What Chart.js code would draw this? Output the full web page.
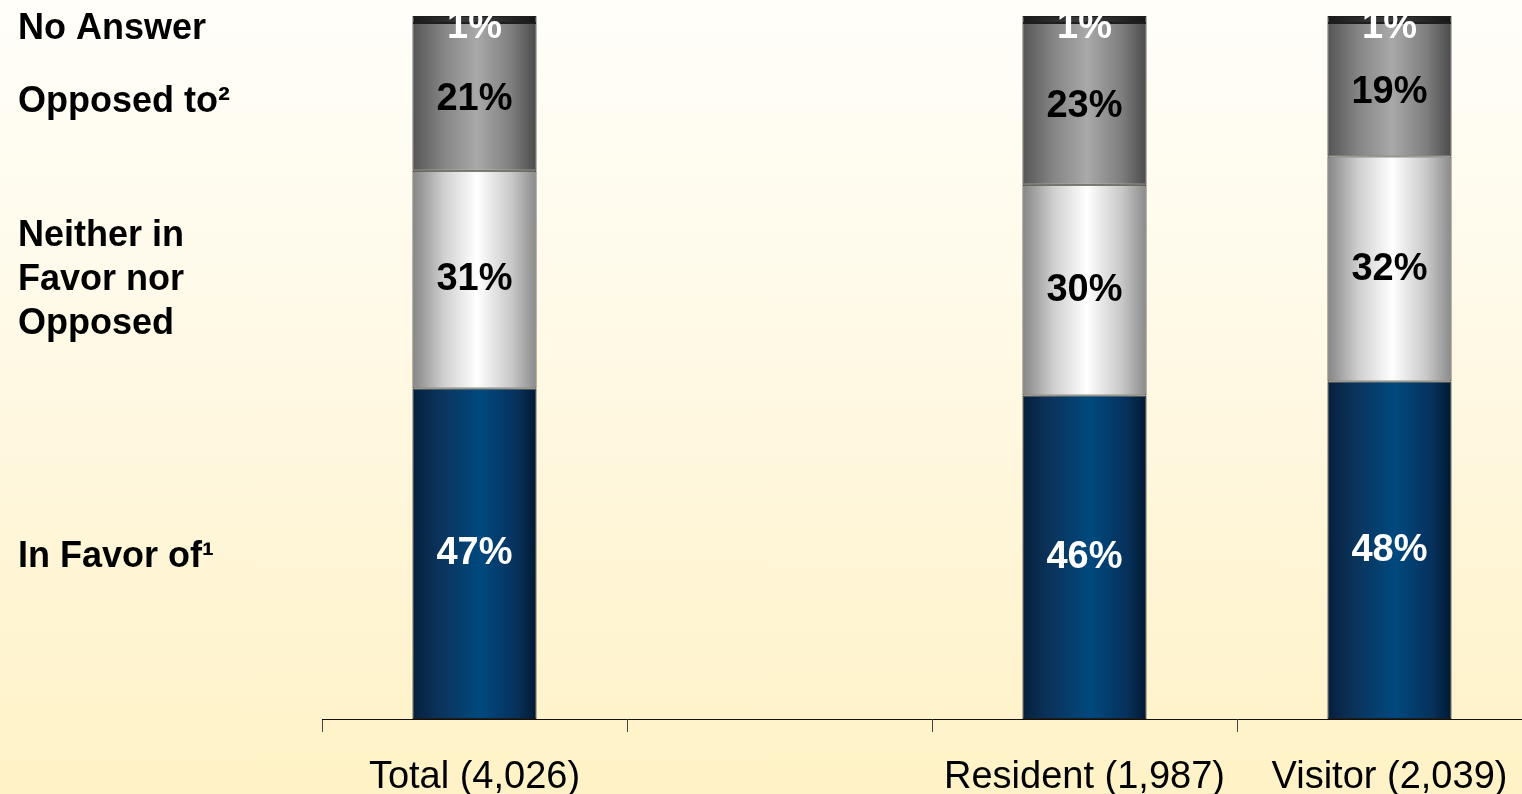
<!DOCTYPE html>
<html lang="en">
  <head>
    <meta charset="UTF-8" />
    <title>In Favor / Opposed</title>
    <script src="https://cdn.jsdelivr.net/npm/chart.js@4.4.1/dist/chart.umd.min.js"></script>
    <style>
      html,
      body {
        margin: 0;
        width: 1522px;
        height: 794px;
        overflow: hidden;
        background: linear-gradient(to bottom, #fffef9 0%, #fffaea 35%, #fff2c6 100%);
        font-family: "Liberation Sans", Arial, sans-serif;
      }
      #wrap {
        position: absolute;
        left: 0;
        top: 0;
        width: 1545px;
        height: 824px;
      }
    </style>
  </head>
  <body>
    <div id="wrap"><canvas id="surveyChart" width="1545" height="824"></canvas></div>

    <script>
      // data
      const categories = ["Total (4,026)", "", "Resident (1,987)", "Visitor (2,039)"];
      const inFavor = [47, null, 46, 48];
      const neither = [31, null, 30, 32];
      const opposed = [21, null, 23, 19];
      const noAnswer = [1, null, 1, 1];

      const BAR_PCT = 0.407;

      // horizontal shading across each bar
      function shade(stops, fallback) {
        return (ctx) => {
          const chart = ctx.chart;
          const x = chart.scales.x;
          if (!chart.chartArea || !x) return fallback;
          const center = x.getPixelForValue(ctx.dataIndex);
          const half = ((x.width / categories.length) * BAR_PCT) / 2;
          const g = chart.ctx.createLinearGradient(center - half, 0, center + half, 0);
          stops.forEach(([pos, col]) => g.addColorStop(pos, col));
          return g;
        };
      }

      const blueStops = [
        [0, "#061f3c"],
        [0.2, "#0b3259"],
        [0.55, "#00497f"],
        [0.85, "#07305a"],
        [1, "#001830"],
      ];
      const whiteStops = [
        [0, "#858585"],
        [0.25, "#cfcfcf"],
        [0.52, "#ffffff"],
        [0.8, "#c8c8c8"],
        [1, "#8a8a8a"],
      ];
      const greyStops = [
        [0, "#555555"],
        [0.25, "#858585"],
        [0.52, "#a9a9a9"],
        [0.8, "#7e7e7e"],
        [1, "#4a4a4a"],
      ];
      const darkStops = [
        [0, "#1a1a1a"],
        [0.5, "#3c3c3c"],
        [1, "#161616"],
      ];

      // percent labels inside the segments
      const labelColors = ["#ffffff", "#000000", "#000000", "#ffffff"];
      const labelOffsets = [0, 0, 3, 8];
      const segmentLabels = {
        id: "segmentLabels",
        afterDatasetsDraw(chart) {
          const ctx = chart.ctx;
          const area = chart.chartArea;
          ctx.save();
          ctx.beginPath();
          ctx.rect(area.left, area.top, area.right - area.left, area.bottom - area.top);
          ctx.clip();
          ctx.font = "bold 38px 'Liberation Sans', Arial, sans-serif";
          ctx.textAlign = "center";
          ctx.textBaseline = "middle";
          chart.data.datasets.forEach((ds, i) => {
            const meta = chart.getDatasetMeta(i);
            meta.data.forEach((el, j) => {
              if (ds.data[j] == null) return;
              ctx.fillStyle = labelColors[i];
              ctx.fillText(ds.data[j] + "%", el.x, (el.y + el.base) / 2 + labelOffsets[i]);
            });
          });
          ctx.restore();
        },
      };

      // series names on the left
      const sideLabels = {
        id: "sideLabels",
        afterDraw(chart) {
          const ctx = chart.ctx;
          ctx.save();
          ctx.font = "bold 36px 'Liberation Sans', Arial, sans-serif";
          ctx.fillStyle = "#000";
          ctx.textAlign = "left";
          ctx.textBaseline = "alphabetic";
          ctx.fillText("No Answer", 18, 39);
          ctx.fillText("Opposed to\u00b2", 18, 112);
          ctx.fillText("Neither in", 18, 246);
          ctx.fillText("Favor nor", 18, 290);
          ctx.fillText("Opposed", 18, 334);
          ctx.fillText("In Favor of\u00b9", 18, 567);
          ctx.restore();
        },
      };

      const common = {
        borderColor: "#1e1e1e",
        borderWidth: 1,
        borderSkipped: false,
        barPercentage: BAR_PCT,
        categoryPercentage: 1,
      };

      new Chart(document.getElementById("surveyChart"), {
        type: "bar",
        data: {
          labels: categories,
          datasets: [
            { label: "In Favor of", data: inFavor, backgroundColor: shade(blueStops, "#003b6f"), ...common },
            { label: "Neither in Favor nor Opposed", data: neither, backgroundColor: shade(whiteStops, "#e0e0e0"), ...common },
            { label: "Opposed to", data: opposed, backgroundColor: shade(greyStops, "#888888"), ...common },
            { label: "No Answer", data: noAnswer, backgroundColor: shade(darkStops, "#222222"), ...common },
          ],
        },
        options: {
          responsive: false,
          animation: false,
          layout: { padding: { left: 322, right: 3, top: 16, bottom: 0 } },
          plugins: { legend: { display: false }, tooltip: { enabled: false } },
          scales: {
            x: {
              stacked: true,
              grid: {
                offset: true,
                drawOnChartArea: false,
                drawTicks: true,
                tickLength: 13,
                tickColor: "#444",
              },
              border: { display: true, color: "#111", width: 1 },
              ticks: {
                color: "#000",
                padding: 27,
                maxRotation: 0,
                autoSkip: false,
                font: { family: "'Liberation Sans', Arial, sans-serif", size: 38, lineHeight: 1 },
              },
            },
            y: {
              stacked: true,
              display: false,
              min: 0,
              max: 100,
            },
          },
        },
        plugins: [segmentLabels, sideLabels],
      });
    </script>
  </body>
</html>
